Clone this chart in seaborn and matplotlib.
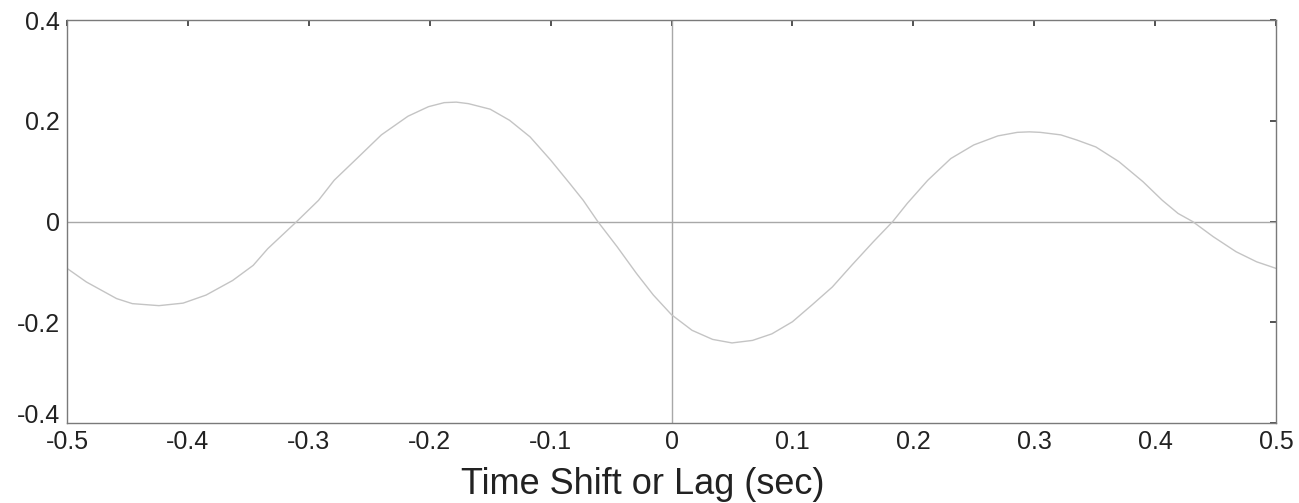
import numpy as np
import pandas as pd
import matplotlib
matplotlib.use("Agg")
import matplotlib.pyplot as plt
import seaborn as sns

# cross-correlation values
lag_sec = [-0.500, -0.484, -0.459, -0.446, -0.424, -0.404, -0.385, -0.363,
           -0.346, -0.334, -0.310, -0.292, -0.279, -0.259, -0.240, -0.218,
           -0.201, -0.188, -0.178, -0.168, -0.150, -0.134, -0.117, -0.100,
           -0.084, -0.073, -0.061, -0.045, -0.029, -0.015, 0.000, 0.017,
           0.034, 0.050, 0.067, 0.083, 0.100, 0.116, 0.133, 0.149,
           0.167, 0.183, 0.195, 0.212, 0.231, 0.250, 0.270, 0.286,
           0.296, 0.305, 0.322, 0.335, 0.351, 0.370, 0.390, 0.406,
           0.419, 0.431, 0.448, 0.467, 0.484, 0.500]
xcorr = [-0.093, -0.120, -0.153, -0.163, -0.167, -0.162, -0.146, -0.117,
         -0.087, -0.054, 0.000, 0.042, 0.082, 0.128, 0.172, 0.209,
         0.228, 0.236, 0.237, 0.234, 0.223, 0.201, 0.168, 0.122,
         0.075, 0.042, 0.000, -0.050, -0.103, -0.146, -0.185, -0.216,
         -0.234, -0.241, -0.236, -0.223, -0.199, -0.166, -0.130, -0.087,
         -0.040, 0.000, 0.036, 0.082, 0.125, 0.152, 0.170, 0.177,
         0.178, 0.177, 0.172, 0.162, 0.148, 0.119, 0.079, 0.042,
         0.016, 0.000, -0.030, -0.060, -0.080, -0.093]
x_ticks = [-0.5, -0.4, -0.3, -0.2, -0.1, 0, 0.1, 0.2, 0.3, 0.4, 0.5]
x_tick_labels = ["-0.5", "-0.4", "-0.3", "-0.2", "-0.1", "0",
                 "0.1", "0.2", "0.3", "0.4", "0.5"]
y_ticks = [-0.4, -0.2, 0, 0.2, 0.4]
y_tick_labels = ["-0.4", "-0.2", "0", "0.2", "0.4"]

sns.set_theme(style="white")
plt.rcParams["font.family"] = ["Liberation Sans", "DejaVu Sans"]

df = pd.DataFrame({"lag": lag_sec, "r": xcorr})

fig = plt.figure(figsize=(12.99, 5.03), dpi=100)
ax = fig.add_axes([0.0516, 0.159, 0.9307, 0.8012])

# zero reference lines
ax.axhline(0, color="#a8a8a8", lw=1.0, zorder=1)
ax.axvline(0, color="#a8a8a8", lw=1.0, zorder=1)

sns.lineplot(data=df, x="lag", y="r", ax=ax, color="#c4c4c4", lw=1.0,
             zorder=2)

ax.set_xlim(-0.5, 0.5)
ax.set_ylim(-0.4, 0.4)
ax.set_xticks(x_ticks)
ax.set_xticklabels(x_tick_labels)
ax.set_yticks(y_ticks)
ax.set_yticklabels(y_tick_labels)
ax.tick_params(direction="in", length=4, width=1.2, color="#333333",
               top=True, right=True, labelsize=18, labelcolor="#222222")
ax.tick_params(axis="x", pad=5)
ax.tick_params(axis="y", pad=5)
# lift the bottom y label a little so it doesn't sit on "-0.5"
ax.get_yticklabels()[0].set_va("baseline")
ax.set_xlabel("Time Shift or Lag (sec)", fontsize=26, color="#222222")
ax.xaxis.set_label_coords(0.476, -0.108)
ax.set_ylabel("")
for sp in ax.spines.values():
    sp.set_color("#7a7a7a")
    sp.set_linewidth(1.0)

fig.savefig("out.png", dpi=100)
